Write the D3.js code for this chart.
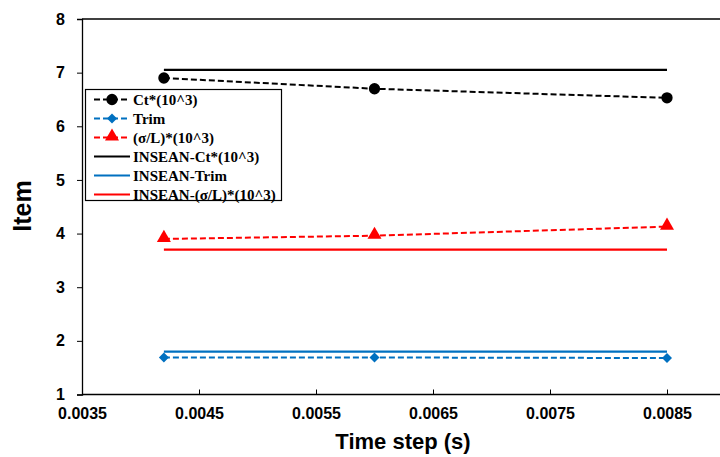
<!DOCTYPE html>
<html><head><meta charset="utf-8">
<script src="https://cdn.jsdelivr.net/npm/d3@7"></script>
<style>body{margin:0;background:#fff}svg{display:block}</style>
</head><body><svg id="c" width="720" height="457"></svg>
<script>
const timeSteps = [0.0042, 0.0060, 0.0085];
const ctValues = [6.90, 6.70, 6.53];
const trimValues = [1.69, 1.69, 1.68];
const sigmaValues = [3.90, 3.96, 4.13];
const inseanCt = 7.05;
const inseanTrim = 1.80;
const inseanSigma = 3.70;
const xTicks = [0.0035, 0.0045, 0.0055, 0.0065, 0.0075, 0.0085];
const yTicks = [1, 2, 3, 4, 5, 6, 7, 8];
const legendLabels = ["Ct*(10^3)", "Trim", "(σ/L)*(10^3)", "INSEAN-Ct*(10^3)", "INSEAN-Trim", "INSEAN-(σ/L)*(10^3)"];

const BLUE = "#0070C0", RED = "#FF0000";
const svg = d3.select("#c");
const x = d3.scaleLinear().domain([0.0035, 0.009]).range([82, 725.5]);
const y = d3.scaleLinear().domain([1, 8]).range([394.5, 19]);

svg.append("line").attr("x1", 82).attr("x2", 720).attr("y1", 19).attr("y2", 19).attr("stroke", "#000").attr("stroke-width", 1.3);

const xAxis = d3.axisBottom(x).tickValues(xTicks).tickSize(-5).tickPadding(13).tickFormat(d3.format(".4f"));
const yAxis = d3.axisLeft(y).tickValues(yTicks).tickSize(5).tickPadding(12).tickFormat(d3.format("d"));
const gx = svg.append("g").attr("transform", `translate(0,${y(1)})`).call(xAxis);
const gy = svg.append("g").attr("transform", `translate(82,0)`).call(yAxis);
[gx, gy].forEach(a => {
  a.select(".domain").attr("stroke", "#000").attr("stroke-width", 1.3);
  a.selectAll(".tick line").attr("stroke", "#000").attr("stroke-width", 1);
  a.selectAll("text").attr("font-family", "Arial, 'Liberation Sans', sans-serif").attr("font-weight", "bold").attr("font-size", 16).attr("fill", "#000");
});
gx.select(".domain").attr("d", `M82,0H720`);

svg.append("text").attr("x", 403).attr("y", 449).attr("text-anchor", "middle")
  .attr("font-family", "Arial, 'Liberation Sans', sans-serif").attr("font-weight", "bold").attr("font-size", 22).text("Time step (s)");
svg.append("text").attr("transform", "translate(31,206) rotate(-90)").attr("text-anchor", "middle")
  .attr("font-family", "Arial, 'Liberation Sans', sans-serif").attr("font-weight", "bold").attr("font-size", 25).text("Item");

const refs = [[inseanCt, "#000"], [inseanTrim, BLUE], [inseanSigma, RED]];
refs.forEach(([v, c]) => {
  svg.append("line").attr("x1", x(timeSteps[0])).attr("x2", x(timeSteps[timeSteps.length - 1]))
    .attr("y1", y(v)).attr("y2", y(v)).attr("stroke", c).attr("stroke-width", 2.2);
});

function marker(type) {
  if (type === "circle") return {d: d3.symbol().type(d3.symbolCircle).size(100)(), rot: 0, dy: 0};
  if (type === "diamond") return {d: d3.symbol().type(d3.symbolSquare).size(50)(), rot: 45, dy: 0};
  return {d: d3.symbol().type(d3.symbolTriangle).size(85)(), rot: 0, dy: -1};
}

const line = d3.line().x(d => x(d[0])).y(d => y(d[1]));
const series = [
  {vals: ctValues, color: "#000", m: "circle"},
  {vals: trimValues, color: BLUE, m: "diamond"},
  {vals: sigmaValues, color: RED, m: "triangle"}
];
series.forEach(s => {
  const pts = timeSteps.map((t, i) => [t, s.vals[i]]);
  svg.append("path").attr("d", line(pts)).attr("fill", "none").attr("stroke", s.color)
    .attr("stroke-width", 2).attr("stroke-dasharray", "6,3");
  const mk = marker(s.m);
  svg.selectAll(null).data(pts).enter().append("path")
    .attr("d", mk.d)
    .attr("transform", d => `translate(${x(d[0])},${y(d[1]) + mk.dy}) rotate(${mk.rot})`)
    .attr("fill", s.color);
});

const lg = svg.append("g");
lg.append("rect").attr("x", 85.5).attr("y", 89.5).attr("width", 196).attr("height", 111)
  .attr("fill", "#fff").attr("stroke", "#000").attr("stroke-width", 1.2);
const legendStyles = [
  {color: "#000", dash: "6,3", m: "circle"},
  {color: BLUE, dash: "6,3", m: "diamond"},
  {color: RED, dash: "6,3", m: "triangle"},
  {color: "#000", dash: null},
  {color: BLUE, dash: null},
  {color: RED, dash: null}
];
legendLabels.forEach((lab, i) => {
  const st = legendStyles[i];
  const cy = 99.5 + i * 19;
  lg.append("line").attr("x1", 94).attr("x2", 130).attr("y1", cy).attr("y2", cy)
    .attr("stroke", st.color).attr("stroke-width", 2).attr("stroke-dasharray", st.dash);
  if (st.m) {
    const mk = marker(st.m);
    lg.append("path").attr("d", mk.d)
      .attr("transform", `translate(112,${cy + mk.dy}) rotate(${mk.rot})`).attr("fill", st.color);
  }
  lg.append("text").attr("x", 133).attr("y", cy + 5.5)
    .attr("font-family", "'Times New Roman', 'Liberation Serif', serif").attr("font-weight", "bold")
    .attr("font-size", 15).text(lab);
});
</script></body></html>
